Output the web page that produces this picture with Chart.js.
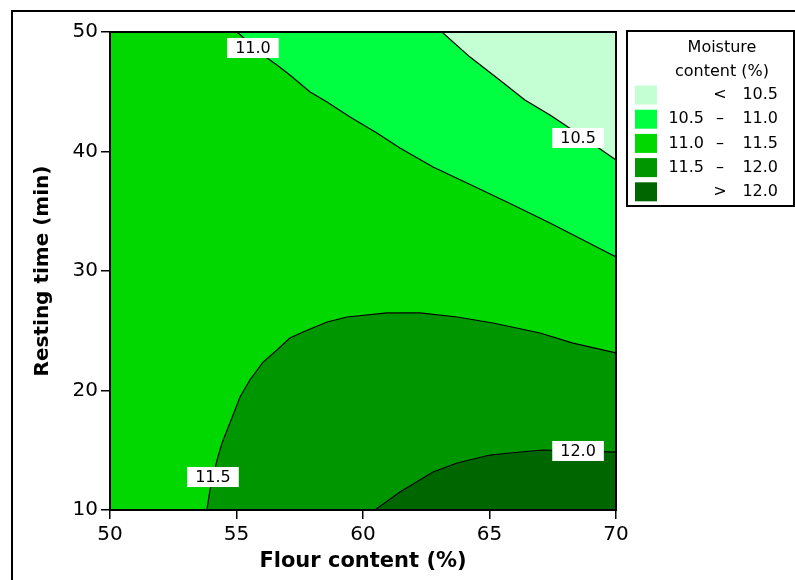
<!DOCTYPE html>
<html>
<head>
<meta charset="utf-8">
<script src="https://cdn.jsdelivr.net/npm/chart.js@4.4.1/dist/chart.umd.min.js"></script>
<style>
  html, body { margin: 0; padding: 0; background: #fff; }
  #wrap { width: 795px; height: 580px; position: relative; }
</style>
</head>
<body>
<div id="wrap"><canvas id="contour"></canvas></div>
<script>
// ── Contour levels & band colours ─────────────────────────
const levels      = [10.5, 11.0, 11.5, 12.0];
const bandColors  = ['#c4ffd4', '#00ff40', '#00d800', '#009600', '#006600']; // <10.5 … >12.0

// ── Contour lines (flour %, resting min) ──
const flour10_5 = [63.12, 64.23, 65.30, 66.40, 67.39, 68.46, 70.00];
const rest10_5  = [50.00, 47.90, 46.15, 44.31, 43.05, 41.55, 39.29];

const flour11_0 = [55.02, 56.21, 56.60, 57.11, 57.91, 58.58, 59.49, 60.55, 61.46, 62.77, 64.11, 65.69, 67.39, 68.70, 70.00];
const rest11_0  = [50.00, 47.82, 47.24, 46.40, 44.98, 44.14, 42.89, 41.55, 40.29, 38.70, 37.36, 35.77, 34.02, 32.59, 31.17];

const flour11_5 = [53.83, 53.95, 54.23, 54.43, 54.74, 55.14, 55.53, 56.05, 56.60, 57.11, 57.63, 58.58, 59.37, 60.95, 62.25, 63.72, 65.14, 67.00, 68.30, 70.00];
const rest11_5  = [10.00, 11.67, 14.18, 15.61, 17.28, 19.46, 20.88, 22.38, 23.39, 24.39, 24.90, 25.73, 26.15, 26.49, 26.49, 26.15, 25.65, 24.81, 23.97, 23.14];

const flour12_0 = [60.47, 61.46, 62.77, 63.72, 65.02, 65.81, 67.11, 70.00];
const rest12_0  = [10.00, 11.51, 13.18, 13.93, 14.60, 14.77, 15.02, 14.85];

// label anchors on each contour (data coords)
const labelText  = ['11.0', '10.5', '11.5', '12.0'];
const labelFlour = [55.65, 68.50, 54.07, 68.50];
const labelRest  = [48.66, 41.13, 12.76, 14.94];

const xTicks = [50, 55, 60, 65, 70];
const yTicks = [10, 20, 30, 40, 50];

const FONT = 'DejaVu Sans';
Chart.defaults.color = '#000';
Chart.defaults.font.family = FONT;

const pts = (xs, ys) => xs.map((x, i) => ({ x, y: ys[i] }));

function contourSet(xs, ys, fill, color) {
  return {
    data: pts(xs, ys),
    showLine: true, fill, backgroundColor: color,
    borderColor: '#000', borderWidth: 1.2, tension: 0,
    pointRadius: 0, pointHoverRadius: 0,
  };
}

// ── plugin: frame, plot background, contour labels, legend ──
const decor = {
  id: 'decor',
  beforeDraw(chart) {
    const c = chart.ctx;
    c.save();
    c.fillStyle = '#000';
    c.fillRect(11, 10, 795, 2);
    c.fillRect(11, 10, 2, 580);
    c.restore();
  },
  beforeDatasetsDraw(chart) {
    const { ctx: c, chartArea: a } = chart;
    c.save();
    c.fillStyle = bandColors[2];
    c.fillRect(a.left, a.top, a.right - a.left, a.bottom - a.top);
    c.restore();
  },
  afterDatasetsDraw(chart) {
    const { ctx: c, chartArea: a, scales } = chart;
    c.save();
    // contour labels
    c.font = '16px ' + FONT;
    c.textAlign = 'center';
    c.textBaseline = 'middle';
    labelText.forEach((t, i) => {
      const px = scales.x.getPixelForValue(labelFlour[i]);
      const py = scales.y.getPixelForValue(labelRest[i]);
      const w = c.measureText(t).width + 16;
      c.fillStyle = '#fff';
      c.fillRect(px - w / 2, py - 10, w, 20);
      c.fillStyle = '#000';
      c.fillText(t, px, py + 1);
    });
    // plot frame
    c.strokeStyle = '#000';
    c.lineWidth = 2;
    c.strokeRect(a.left, a.top, a.right - a.left, a.bottom - a.top);
    c.restore();
  },
  afterDraw(chart) {
    const { ctx: c, chartArea: a } = chart;
    const L = a.right + 11, T = a.top - 1, W = 167, H = 175;
    c.save();
    c.fillStyle = '#fff';
    c.fillRect(L, T, W, H);
    c.strokeStyle = '#000';
    c.lineWidth = 2;
    c.strokeRect(L, T, W, H);
    c.fillStyle = '#000';
    c.font = '16px ' + FONT;
    c.textBaseline = 'middle';
    c.textAlign = 'center';
    c.fillText('Moisture', L + 95, T + 17);
    c.fillText('content (%)', L + 95, T + 41);
    const rows = [
      ['', '<', levels[0]],
      [levels[0], '\u2013', levels[1]],
      [levels[1], '\u2013', levels[2]],
      [levels[2], '\u2013', levels[3]],
      ['', '>', levels[3]],
    ];
    rows.forEach((r, i) => {
      const cy = T + 64 + i * 24.2;
      c.fillStyle = bandColors[i];
      c.fillRect(L + 8, cy - 9.5, 22, 19);
      c.fillStyle = '#000';
      c.textAlign = 'right';
      if (r[0] !== '') c.fillText(r[0].toFixed(1), L + 77, cy);
      c.textAlign = 'center';
      c.fillText(r[1], L + 93, cy);
      c.textAlign = 'right';
      c.fillText(r[2].toFixed(1), L + 151, cy);
    });
    c.restore();
  }
};

new Chart(document.getElementById('contour'), {
  type: 'scatter',
  data: {
    datasets: [
      contourSet(flour10_5, rest10_5, 'end',   bandColors[0]),
      contourSet(flour11_0, rest11_0, 'end',   bandColors[1]),
      contourSet(flour12_0, rest12_0, 'start', bandColors[4]),
      contourSet(flour11_5, rest11_5, 'start', bandColors[3]),
    ]
  },
  options: {
    responsive: true, maintainAspectRatio: false, animation: false,
    layout: { padding: { top: 32, right: 179, bottom: 0, left: 0 } },
    plugins: { legend: { display: false }, tooltip: { enabled: false } },
    scales: {
      x: {
        type: 'linear', min: 50, max: 70,
        afterBuildTicks: s => { s.ticks = xTicks.map(v => ({ value: v })); },
        afterFit: s => { s.height = 70; },
        ticks: { font: { size: 20 }, padding: 4, maxRotation: 0 },
        grid: { drawOnChartArea: false, tickLength: 9, color: '#000', lineWidth: 1.5 },
        border: { color: '#000', width: 2 },
        title: { display: true, text: 'Flour content (%)', font: { size: 21, weight: 'bold' }, padding: { top: 0, bottom: 6 } },
      },
      y: {
        type: 'linear', min: 10, max: 50,
        afterBuildTicks: s => { s.ticks = yTicks.map(v => ({ value: v })); },
        afterFit: s => { s.width = 110; },
        ticks: { font: { size: 20 }, padding: 3 },
        grid: { drawOnChartArea: false, tickLength: 9, color: '#000', lineWidth: 1.5 },
        border: { color: '#000', width: 2 },
        title: { display: true, text: 'Resting time (min)', font: { size: 20, weight: 'bold' }, padding: { top: 31, bottom: 0 } },
      }
    }
  },
  plugins: [decor]
});
</script>
</body>
</html>
